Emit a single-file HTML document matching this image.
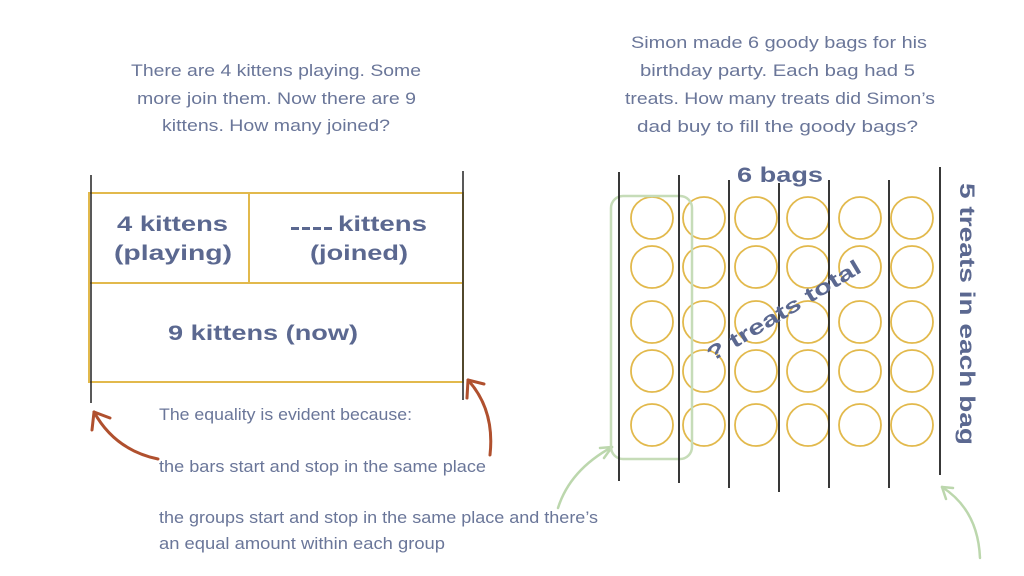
<!DOCTYPE html>
<html><head><meta charset="utf-8"><style>
html,body{margin:0;padding:0;background:#fff;width:1024px;height:576px;overflow:hidden}
svg{display:block}
.t{font-family:"Liberation Sans",sans-serif;fill:#6a7699;font-size:17px}
.b{font-family:"Liberation Sans",sans-serif;fill:#5b6890;font-weight:bold;font-size:21px}
</style></head><body>
<svg width="1024" height="576" viewBox="0 0 1024 576" xmlns="http://www.w3.org/2000/svg">
<text class="t" x="131" y="76" textLength="290" lengthAdjust="spacingAndGlyphs">There are 4 kittens playing. Some</text>
<text class="t" x="137" y="104" textLength="279" lengthAdjust="spacingAndGlyphs">more join them. Now there are 9</text>
<text class="t" x="162" y="131" textLength="228" lengthAdjust="spacingAndGlyphs">kittens. How many joined?</text>
<text class="t" x="631" y="48" textLength="296" lengthAdjust="spacingAndGlyphs">Simon made 6 goody bags for his</text>
<text class="t" x="640" y="76" textLength="275" lengthAdjust="spacingAndGlyphs">birthday party. Each bag had 5</text>
<text class="t" x="625" y="104" textLength="310" lengthAdjust="spacingAndGlyphs">treats. How many treats did Simon’s</text>
<text class="t" x="637" y="132" textLength="281" lengthAdjust="spacingAndGlyphs">dad buy to fill the goody bags?</text>

<g stroke="#e2b94c" stroke-width="2" fill="none">
<rect x="89" y="193" width="374" height="189"/>
<line x1="89" y1="283" x2="463" y2="283"/>
<line x1="249" y1="193" x2="249" y2="283"/>
</g>
<line x1="91" y1="175" x2="91" y2="403" stroke="#222" stroke-width="1.5"/>
<line x1="463" y1="171" x2="463" y2="400" stroke="#222" stroke-width="1.5"/>
<text class="b" x="117" y="231" textLength="111" lengthAdjust="spacingAndGlyphs">4 kittens</text>
<text class="b" x="114" y="260" textLength="118" lengthAdjust="spacingAndGlyphs">(playing)</text>
<g fill="#5b6890">
<rect x="291" y="227" width="8" height="3"/><rect x="302" y="227" width="8" height="3"/><rect x="313" y="227" width="8" height="3"/><rect x="324" y="227" width="8" height="3"/>
</g>
<text class="b" x="338" y="231" textLength="89" lengthAdjust="spacingAndGlyphs">kittens</text>
<text class="b" x="310" y="260" textLength="98" lengthAdjust="spacingAndGlyphs">(joined)</text>
<text class="b" x="168" y="340" textLength="190" lengthAdjust="spacingAndGlyphs">9 kittens (now)</text>

<text class="t" x="159" y="420" textLength="253" lengthAdjust="spacingAndGlyphs">The equality is evident because:</text>
<text class="t" x="159" y="472" textLength="327" lengthAdjust="spacingAndGlyphs">the bars start and stop in the same place</text>
<text class="t" x="159" y="523" textLength="439" lengthAdjust="spacingAndGlyphs">the groups start and stop in the same place and there’s</text>
<text class="t" x="159" y="549" textLength="286" lengthAdjust="spacingAndGlyphs">an equal amount within each group</text>

<g stroke="#b0502e" stroke-width="3" fill="none" stroke-linecap="round">
<path d="M158 459 Q115 450 94 412"/>
<path d="M94 412 L92 430 M94 412 L110 418"/>
<path d="M490 455 Q495 410 468 380"/>
<path d="M468 380 L467 398 M468 380 L484 384"/>
</g>
<g stroke="#bcd7ad" stroke-width="2.5" fill="none" stroke-linecap="round">
<path d="M558 508 Q570 470 612 447"/>
<path d="M612 447 L600 448 M612 447 L604 458"/>
<path d="M980 558 Q978 510 942 487"/>
<path d="M942 487 L953 488 M942 487 L946 499"/>
</g>

<g stroke="#e2b94c" stroke-width="1.8" fill="none">
<g id="col">
<circle cx="652" cy="218" r="21"/><circle cx="652" cy="267" r="21"/><circle cx="652" cy="322" r="21"/><circle cx="652" cy="371" r="21"/><circle cx="652" cy="425" r="21"/>
</g>
<use href="#col" x="52"/><use href="#col" x="104"/><use href="#col" x="156"/><use href="#col" x="208"/><use href="#col" x="260"/>
</g>
<rect x="611" y="196" width="81" height="263" rx="12" fill="none" stroke="#c6dcb8" stroke-width="2.5"/>
<g stroke="#222" stroke-width="1.8">
<line x1="619" y1="172" x2="619" y2="481"/>
<line x1="679" y1="175" x2="679" y2="483"/>
<line x1="729" y1="180" x2="729" y2="488"/>
<line x1="779" y1="183" x2="779" y2="492"/>
<line x1="829" y1="180" x2="829" y2="488"/>
<line x1="889" y1="180" x2="889" y2="488"/>
<line x1="940" y1="167" x2="940" y2="475"/>
</g>
<text class="b" x="737" y="182" textLength="86" lengthAdjust="spacingAndGlyphs" font-size="22">6 bags</text>
<text class="b" font-size="22" transform="translate(960,183) rotate(90)" x="0" y="0" textLength="262" lengthAdjust="spacingAndGlyphs">5 treats in each bag</text>
<text class="b" transform="translate(712,362) rotate(-31)" x="0" y="0" textLength="176" lengthAdjust="spacingAndGlyphs">? treats total</text>
</svg>
</body></html>
